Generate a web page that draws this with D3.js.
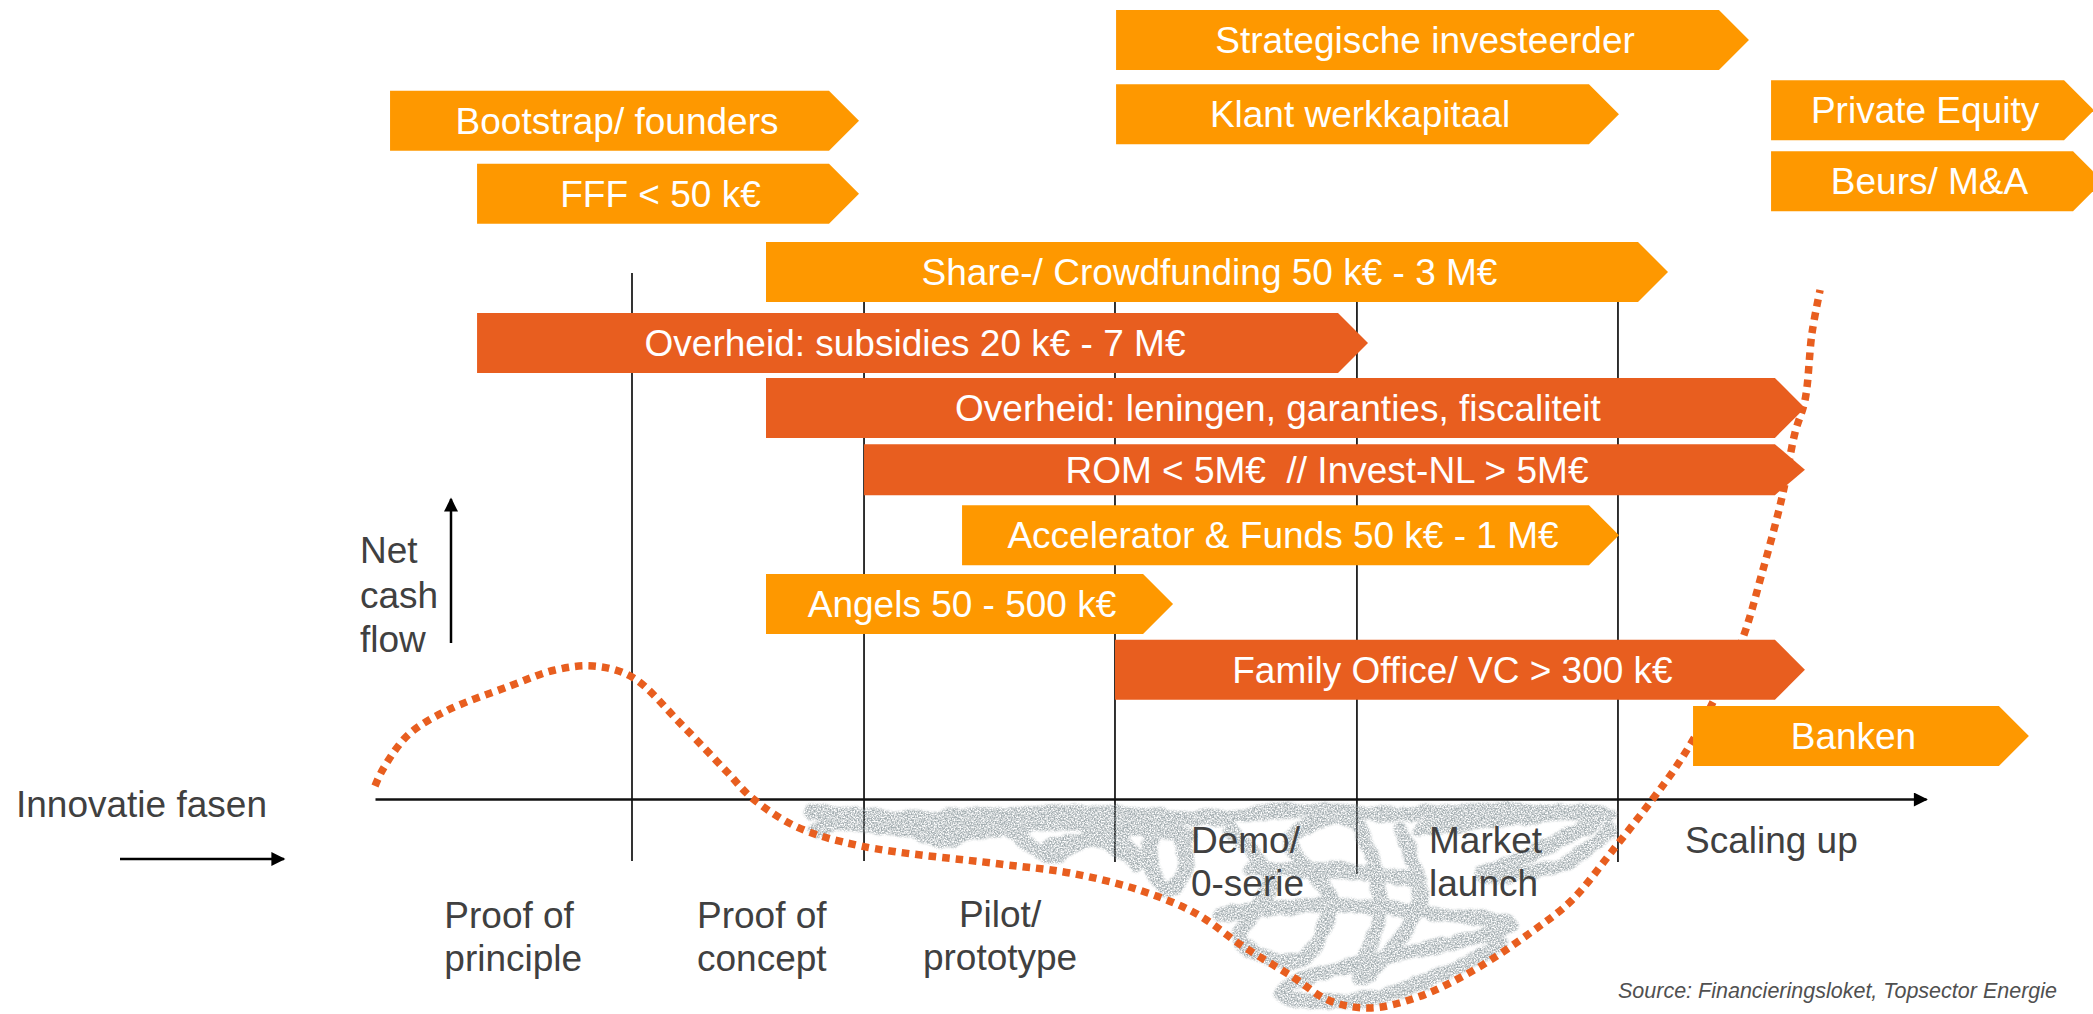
<!DOCTYPE html>
<html>
<head>
<meta charset="utf-8">
<script src="https://cdn.jsdelivr.net/npm/d3@7"></script>
<style>
  body { margin: 0; background: #fff; }
  svg { display: block; font-family: "Liberation Sans", Arial, sans-serif; }
  .bar-label { fill: #fff; font-size: 37px; white-space: pre; }
  .phase { fill: #404040; font-size: 37px; }
</style>
</head>
<body>
<svg id="chart" width="2093" height="1014"></svg>
<script>
// funding bars: label, start/end along the innovation axis, row, tone
var barLabels = ["Strategische investeerder", "Klant werkkapitaal", "Bootstrap/ founders", "FFF < 50 k€",
  "Private Equity", "Beurs/ M&A", "Share-/ Crowdfunding 50 k€ - 3 M€", "Overheid: subsidies 20 k€ - 7 M€",
  "Overheid: leningen, garanties, fiscaliteit", "ROM < 5M€  // Invest-NL > 5M€",
  "Accelerator & Funds 50 k€ - 1 M€", "Angels 50 - 500 k€", "Family Office/ VC > 300 k€", "Banken"];
var barStart = [47.78, 47.78, 0.97, 6.58, 90.01, 90.01, 25.21, 6.58, 25.21, 31.53, 37.85, 25.21, 47.71, 84.98];
var barEnd   = [86.65, 78.27, 29.27, 29.27, 108.9, 109.48, 81.43, 62.09, 90.26, 90.26, 78.27, 49.52, 90.26, 104.7];
var barRow   = [-3.5, -2.38, -2.28, -1.18, -2.44, -1.37, 0, 1.07, 2.05, 3.05, 3.97, 5.01, 6, 7];
var barTone  = ["light", "light", "light", "light", "light", "light", "light", "dark", "dark", "dark", "light", "light", "dark", "light"];

// phase boundaries (x) and how far each line goes below the axis (y)
var phaseBounds = [16.57, 31.53, 47.71, 63.31, 80.14];
var phaseLineEnd = [-31, -31, -31.5, -37.5, -31.5];
var phaseLineTop = 263;

// net cash flow curve [progress, cash flow]
var cashFlow = [[0, 6.5], [0.52, 15], [2.13, 32], [4.58, 44], [8.7, 56.5], [11.61, 64.5], [14.06, 66.5],
  [16.57, 61], [19.79, 37], [22.7, 13.5], [24.31, 0.5], [27.21, -14], [31.33, -23.5], [40.3, -32.5],
  [44.81, -37], [49.26, -45.5], [52.87, -57], [56.03, -74], [59.19, -89], [61.44, -100.5], [64.09, -104.5],
  [67.25, -99], [70.86, -85.5], [74.47, -67], [77.18, -50.5], [79.82, -25.5], [82.33, -0.5], [83.88, 16],
  [85.24, 33], [86.33, 49.5], [88.14, 79.5], [89.43, 113], [90.72, 151], [91.55, 183], [92.2, 199.5],
  [92.65, 233], [93.17, 254.5]];

// pencil scribble of the "valley of death"
var scribbles = [
  [[28.05, -6.5], [33.85, -9.5], [40.3, -8], [46.74, -6.5], [53.19, -9.5], [59.64, -5.5], [66.09, -7.5], [72.53, -5.5], [79.63, -8]],
  [[28.37, -15.5], [32.56, -8], [36.43, -20.5], [40.3, -13], [43.52, -28], [47.39, -15.5], [49.23, -33], [46.74, -20.5], [42.88, -25.5]],
  [[48.68, -8], [51.26, -10.5], [52.22, -35.5], [50.93, -45.5], [49.97, -25.5], [50.61, -10.5]],
  [[55.13, -15.5], [57.71, -40.5], [55.77, -70.5], [59.64, -80.5], [61.57, -50.5], [58.99, -20.5], [62.86, -10.5], [64.8, -50.5], [63.51, -90.5], [67.38, -50.5], [66.09, -15.5]],
  [[54.48, -58], [60.93, -53], [69.31, -58], [73.18, -63], [66.09, -78], [59.64, -90.5], [58.35, -98], [63.51, -100.5], [68.67, -88], [72.53, -73]],
  [[67.38, -15.5], [72.53, -10.5], [78.98, -8], [75.12, -25.5], [71.25, -38], [76.41, -33], [79.63, -15.5]],
  [[56.41, -35.5], [61.57, -35.5], [67.38, -40.5]],
  [[30.5, -12], [37.5, -16], [44.5, -12], [52.5, -18]]
];

// phase names: lines, x position, anchor, baseline (cash flow units)
var phaseNames = [
  {lines: ["Proof of", "principle"], x: 4.47, anchor: "start", y: -64.5},
  {lines: ["Proof of", "concept"], x: 20.76, anchor: "start", y: -64.5},
  {lines: ["Pilot/", "prototype"], x: 40.3, anchor: "middle", y: -64},
  {lines: ["Demo/", "0-serie"], x: 52.61, anchor: "start", y: -27},
  {lines: ["Market", "launch"], x: 67.96, anchor: "start", y: -27},
  {lines: ["Scaling up"], x: 84.46, anchor: "start", y: -27}
];

var colors = {light: "#fe9800", dark: "#e85e1f"};

var svg = d3.select("#chart");
var x = d3.scaleLinear().domain([0, 100]).range([375, 1926]),
    y = d3.scaleLinear().domain([-100, 100]).range([999, 599]),
    row = d3.scaleLinear().domain([0, 7]).range([242, 706]);

var defs = svg.append("defs");
var grain = defs.append("filter").attr("id", "grain")
    .attr("x", "-10%").attr("y", "-10%").attr("width", "120%").attr("height", "120%");
grain.append("feTurbulence").attr("type", "fractalNoise").attr("baseFrequency", 0.06)
    .attr("numOctaves", 2).attr("seed", 3).attr("result", "warp");
grain.append("feDisplacementMap").attr("in", "SourceGraphic").attr("in2", "warp").attr("scale", 8)
    .attr("xChannelSelector", "R").attr("yChannelSelector", "G").attr("result", "disp");
grain.append("feGaussianBlur").attr("in", "disp").attr("stdDeviation", 1.2).attr("result", "soft");
grain.append("feTurbulence").attr("type", "fractalNoise").attr("baseFrequency", 0.7)
    .attr("numOctaves", 2).attr("seed", 7).attr("result", "fine");
grain.append("feColorMatrix").attr("in", "fine").attr("type", "matrix")
    .attr("values", "0 0 0 0 0  0 0 0 0 0  0 0 0 0 0  2.6 0 0 0 -0.75").attr("result", "mask");
grain.append("feComposite").attr("in", "soft").attr("in2", "mask").attr("operator", "in");

defs.append("marker").attr("id", "head")
    .attr("viewBox", "0 0 10 10").attr("refX", 9).attr("refY", 5)
    .attr("markerWidth", 16).attr("markerHeight", 14).attr("markerUnits", "userSpaceOnUse")
    .attr("orient", "auto")
  .append("path").attr("d", "M0,0L10,5L0,10Z").attr("fill", "#000");

// phase boundary lines
svg.append("g").selectAll("line")
    .data(phaseBounds)
  .enter().append("line")
    .attr("x1", function(d) { return x(d); })
    .attr("x2", function(d) { return x(d); })
    .attr("y1", y(phaseLineTop))
    .attr("y2", function(d, i) { return y(phaseLineEnd[i]); })
    .attr("stroke", "#000")
    .attr("stroke-width", 1.6);

// scribble
var scribbleLine = d3.line()
    .curve(d3.curveCatmullRom.alpha(0.5))
    .x(function(d) { return x(d[0]); })
    .y(function(d) { return y(d[1]); });

svg.append("g")
    .attr("filter", "url(#grain)")
    .attr("opacity", 0.8)
  .selectAll("path")
    .data(scribbles)
  .enter().append("path")
    .attr("d", scribbleLine)
    .attr("fill", "none")
    .attr("stroke", "#8e9a9e")
    .attr("stroke-width", 15)
    .attr("stroke-linejoin", "round")
    .attr("stroke-linecap", "round");

// innovation axis
var axis = svg.append("g")
    .attr("transform", "translate(0," + y(0) + ")")
    .call(d3.axisBottom(x).tickValues([]).tickSizeOuter(0));
axis.select(".domain")
    .attr("stroke", "#111")
    .attr("stroke-width", 2.5)
    .attr("marker-end", "url(#head)");

// net cash flow curve
var curve = d3.line()
    .curve(d3.curveCatmullRom.alpha(0.5))
    .x(function(d) { return x(d[0]); })
    .y(function(d) { return y(d[1]); });

svg.append("path")
    .datum(cashFlow)
    .attr("d", curve)
    .attr("fill", "none")
    .attr("stroke", "#e85e1f")
    .attr("stroke-width", 7.5)
    .attr("stroke-dasharray", "7.5 6");

// funding bars (arrow shaped)
var tip = 30;
var bars = barLabels.map(function(label, i) {
  return {label: label, start: barStart[i], end: barEnd[i], row: barRow[i], tone: barTone[i]};
});

var bar = svg.append("g").selectAll("g")
    .data(bars)
  .enter().append("g");

function barHeight(d) { return d.label.indexOf("ROM") === 0 ? 51 : 60; }

bar.append("path")
    .attr("d", function(d) {
      var x0 = x(d.start), x1 = x(d.end), y0 = row(d.row), h = barHeight(d);
      return "M" + x0 + "," + y0 + "H" + x1 + "L" + (x1 + tip) + "," + (y0 + h / 2) +
        "L" + x1 + "," + (y0 + h) + "H" + x0 + "Z";
    })
    .attr("fill", function(d) { return colors[d.tone]; });

bar.append("text")
    .attr("class", "bar-label")
    .attr("text-anchor", "middle")
    .attr("x", function(d) { return (x(d.start) + x(d.end) + tip / 2) / 2; })
    .attr("y", function(d) { return row(d.row) + barHeight(d) / 2; })
    .attr("dy", "0.35em")
    .text(function(d) { return d.label; });

// phase names
var phase = svg.append("g").selectAll("text")
    .data(phaseNames)
  .enter().append("text")
    .attr("class", "phase")
    .attr("text-anchor", function(d) { return d.anchor; })
    .attr("y", function(d) { return y(d.y); });

phase.selectAll("tspan")
    .data(function(d) { return d.lines.map(function(l) { return {text: l, x: d.x}; }); })
  .enter().append("tspan")
    .attr("x", function(d) { return x(d.x); })
    .attr("dy", function(d, i) { return i === 0 ? 0 : 43; })
    .text(function(d) { return d.text; });

// axis titles
svg.append("text")
    .attr("class", "phase")
    .attr("x", 16).attr("y", 817)
    .text("Innovatie fasen");

svg.append("line")
    .attr("x1", 120).attr("x2", 284)
    .attr("y1", 859).attr("y2", 859)
    .attr("stroke", "#000").attr("stroke-width", 2.5)
    .attr("marker-end", "url(#head)");

var ncf = svg.append("text")
    .attr("class", "phase")
    .attr("y", 563);
["Net", "cash", "flow"].forEach(function(t, i) {
  ncf.append("tspan").attr("x", 360).attr("dy", i === 0 ? 0 : 44.5).text(t);
});

svg.append("line")
    .attr("x1", 451).attr("x2", 451)
    .attr("y1", 643).attr("y2", 499)
    .attr("stroke", "#000").attr("stroke-width", 2.5)
    .attr("marker-end", "url(#head)");

svg.append("text")
    .attr("x", 2057).attr("y", 998)
    .attr("text-anchor", "end")
    .attr("font-style", "italic")
    .attr("font-size", 21.5)
    .attr("fill", "#505050")
    .text("Source: Financieringsloket, Topsector Energie");
</script>
</body>
</html>
